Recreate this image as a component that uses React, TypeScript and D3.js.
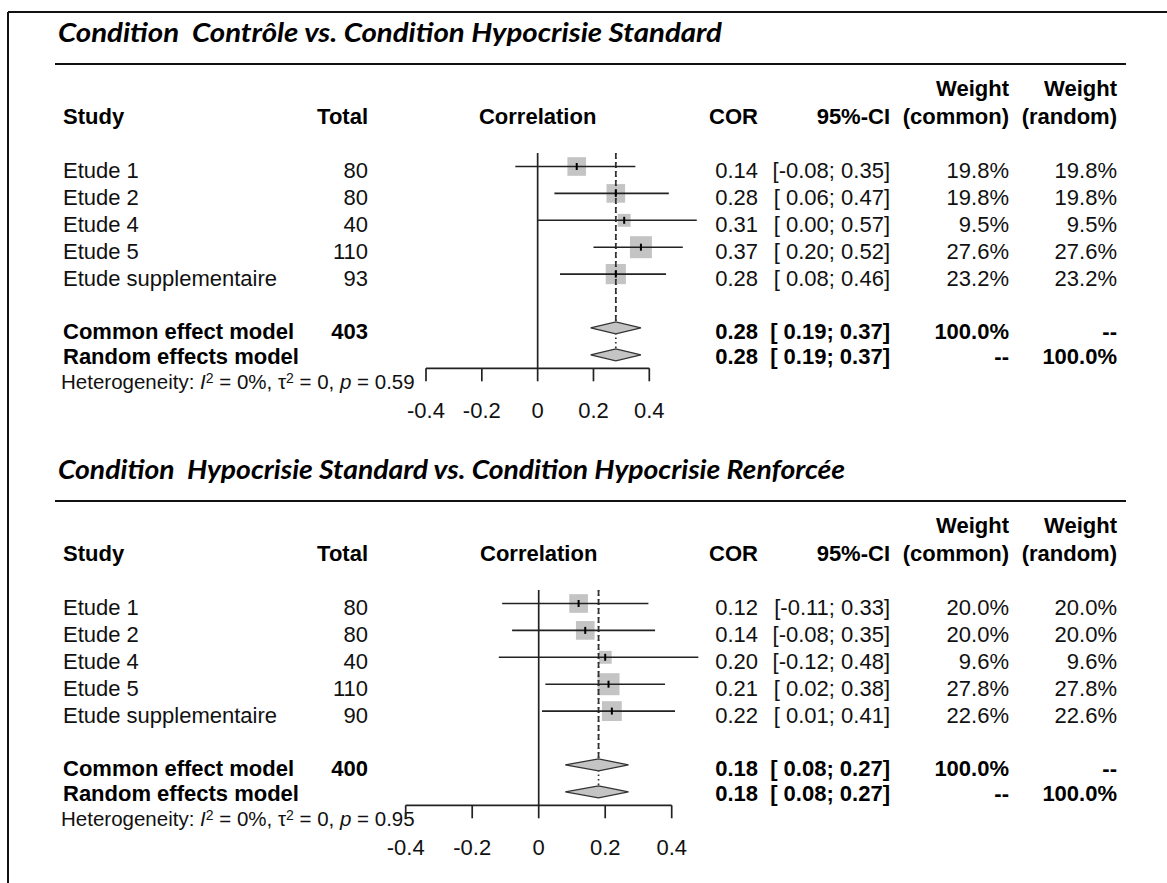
import React from "react";
import * as d3 from "d3";

// ---------- data ----------
const studyLabels = ["Etude 1", "Etude 2", "Etude 4", "Etude 5", "Etude supplementaire"];
const axisTicks = [-0.4, -0.2, 0, 0.2, 0.4];

const titleA = "Condition  Contrôle vs. Condition Hypocrisie Standard";
const totalA = [80, 80, 40, 110, 93];
const corA = [0.14, 0.28, 0.31, 0.37, 0.28];
const lowerA = [-0.08, 0.06, 0.0, 0.2, 0.08];
const upperA = [0.35, 0.47, 0.57, 0.52, 0.46];
const weightCommonA = [19.8, 19.8, 9.5, 27.6, 23.2];
const weightRandomA = [19.8, 19.8, 9.5, 27.6, 23.2];
const commonA = [0.28, 0.19, 0.37];
const randomA = [0.28, 0.19, 0.37];
const pooledTotalA = 403;
const hetA = ["0%", "0", "0.59"];

const titleB = "Condition  Hypocrisie Standard vs. Condition Hypocrisie Renforcée";
const totalB = [80, 80, 40, 110, 90];
const corB = [0.12, 0.14, 0.2, 0.21, 0.22];
const lowerB = [-0.11, -0.08, -0.12, 0.02, 0.01];
const upperB = [0.33, 0.35, 0.48, 0.38, 0.41];
const weightCommonB = [20.0, 20.0, 9.6, 27.8, 22.6];
const weightRandomB = [20.0, 20.0, 9.6, 27.8, 22.6];
const commonB = [0.18, 0.08, 0.27];
const randomB = [0.18, 0.08, 0.27];
const pooledTotalB = 400;
const hetB = ["0%", "0", "0.95"];

// ---------- helpers ----------
const hy = (s: string) => s.replace(/\u2212/g, "-");
const f2 = (v: number) => hy(d3.format(".2f")(v));
const f1 = (v: number) => hy(d3.format(".1f")(v));
const ci = (lo: number, hi: number) => `[${lo < 0 ? "" : " "}${f2(lo)}; ${f2(hi)}]`;
const pct = (w: number) => `${f1(w)}%`;

const FONT = "'Liberation Sans', Arial, sans-serif";
const FS = 22;
const INK = "#111";

type PanelProps = {
  offset: number;
  title: string;
  titleWidth: number;
  total: number[];
  cor: number[];
  lower: number[];
  upper: number[];
  wCommon: number[];
  wRandom: number[];
  common: number[];
  random: number[];
  pooledTotal: number;
  het: string[];
  range: [number, number];
};

function Panel(p: PanelProps) {
  const x = d3.scaleLinear().domain([-0.4, 0.4]).range(p.range);
  const pitch = 26.9;
  const markY = (k: number) => p.offset + 166.5 + pitch * k;
  const baseY = (k: number) => markY(k) + 11.5;
  const headerBase = baseY(-2);
  const weightBase = headerBase - 28.5;
  const axisY = markY(7) + 13.5;
  const topY = markY(0) - 13.5;
  const commonY = markY(6);
  const randomY = markY(7);
  const maxW = d3.max(p.wCommon) as number;
  const boxSize = d3.scaleSqrt().domain([0, maxW]).range([0, 22]);
  const dh = 6;

  const diamond = (est: number[], cy: number) =>
    d3.line()([
      [x(est[1]), cy],
      [x(est[0]), cy - dh],
      [x(est[2]), cy],
      [x(est[0]), cy + dh],
    ]) + "Z";

  const colLabel = 63;
  const colTotal = 368;
  const colCor = 758;
  const colCI = 890;
  const colWc = 1009;
  const colWr = 1117;
  const randBase = baseY(7) - 2.5;

  return (
    <g>
      {/* title */}
      <text
        x={58}
        y={p.offset + 42}
        fontFamily="Lato, 'Open Sans', sans-serif"
        fontStyle="italic"
        fontWeight={700}
        fontSize={26}
        fill="#000"
        textLength={p.titleWidth}
        lengthAdjust="spacingAndGlyphs"
        style={{ whiteSpace: "pre" }}
      >
        {p.title}
      </text>
      <line x1={55} x2={1126} y1={p.offset + 64} y2={p.offset + 64} stroke="#111" strokeWidth={2.2} />

      {/* headers */}
      <g fontFamily={FONT} fontSize={FS} fontWeight={700} fill="#000">
        <text x={colWc} y={weightBase} textAnchor="end">Weight</text>
        <text x={colWr} y={weightBase} textAnchor="end">Weight</text>
        <text x={colLabel} y={headerBase}>Study</text>
        <text x={colTotal} y={headerBase} textAnchor="end">Total</text>
        <text x={x(0)} y={headerBase} textAnchor="middle">Correlation</text>
        <text x={colCor} y={headerBase} textAnchor="end">COR</text>
        <text x={colCI} y={headerBase} textAnchor="end">95%-CI</text>
        <text x={colWc} y={headerBase} textAnchor="end">(common)</text>
        <text x={colWr} y={headerBase} textAnchor="end">(random)</text>
      </g>

      {/* study rows text */}
      <g fontFamily={FONT} fontSize={FS} fill={INK} style={{ whiteSpace: "pre" }}>
        {studyLabels.map((s, i) => (
          <g key={s}>
            <text x={colLabel} y={baseY(i)}>{s}</text>
            <text x={colTotal} y={baseY(i)} textAnchor="end">{p.total[i]}</text>
            <text x={colCor} y={baseY(i)} textAnchor="end">{f2(p.cor[i])}</text>
            <text x={colCI} y={baseY(i)} textAnchor="end">{ci(p.lower[i], p.upper[i])}</text>
            <text x={colWc} y={baseY(i)} textAnchor="end">{pct(p.wCommon[i])}</text>
            <text x={colWr} y={baseY(i)} textAnchor="end">{pct(p.wRandom[i])}</text>
          </g>
        ))}
      </g>

      {/* pooled rows text */}
      <g fontFamily={FONT} fontSize={FS} fontWeight={700} fill="#000" style={{ whiteSpace: "pre" }}>
        <text x={colLabel} y={baseY(6) - 0.5}>Common effect model</text>
        <text x={colTotal} y={baseY(6) - 0.5} textAnchor="end">{p.pooledTotal}</text>
        <text x={colCor} y={baseY(6) - 0.5} textAnchor="end">{f2(p.common[0])}</text>
        <text x={colCI} y={baseY(6) - 0.5} textAnchor="end">{ci(p.common[1], p.common[2])}</text>
        <text x={colWc} y={baseY(6) - 0.5} textAnchor="end">100.0%</text>
        <text x={colWr} y={baseY(6) - 0.5} textAnchor="end">--</text>
        <text x={colLabel} y={randBase}>Random effects model</text>
        <text x={colCor} y={randBase} textAnchor="end">{f2(p.random[0])}</text>
        <text x={colCI} y={randBase} textAnchor="end">{ci(p.random[1], p.random[2])}</text>
        <text x={colWc} y={randBase} textAnchor="end">--</text>
        <text x={colWr} y={randBase} textAnchor="end">100.0%</text>
      </g>

      {/* heterogeneity */}
      <text x={61} y={p.offset + 389} fontFamily={FONT} fontSize={20.5} fill={INK} style={{ whiteSpace: "pre" }}>
        <tspan>Heterogeneity: </tspan>
        <tspan fontStyle="italic">I</tspan>
        <tspan dy={-6.5} fontSize={14}>2</tspan>
        <tspan dy={6.5}>{` = ${p.het[0]}, \u03C4`}</tspan>
        <tspan dy={-6.5} fontSize={14}>2</tspan>
        <tspan dy={6.5}>{` = ${p.het[1]}, `}</tspan>
        <tspan fontStyle="italic">p</tspan>
        <tspan>{` = ${p.het[2]}`}</tspan>
      </text>

      {/* boxes */}
      {p.cor.map((c, i) => {
        const s = boxSize(p.wCommon[i]);
        return (
          <rect key={"b" + i} x={x(c) - s / 2} y={markY(i) - s / 2} width={s} height={s} fill="#c4c4c4" />
        );
      })}

      {/* zero line */}
      <line x1={x(0)} x2={x(0)} y1={topY} y2={axisY} stroke="#222" strokeWidth={1.7} />

      {/* pooled lines */}
      <line x1={x(p.common[0])} x2={x(p.common[0])} y1={topY} y2={commonY - dh} stroke="#333" strokeWidth={1.7} strokeDasharray="6 3" />
      <line x1={x(p.random[0])} x2={x(p.random[0])} y1={topY} y2={randomY - dh} stroke="#333" strokeWidth={1.7} strokeDasharray="1.5 3" />

      {/* CI lines */}
      {p.cor.map((c, i) => (
        <g key={"c" + i}>
          <line x1={x(p.lower[i])} x2={x(p.upper[i])} y1={markY(i)} y2={markY(i)} stroke="#222" strokeWidth={1.6} />
          <line x1={x(c)} x2={x(c)} y1={markY(i) - 3.5} y2={markY(i) + 3.5} stroke="#000" strokeWidth={2} />
        </g>
      ))}

      {/* diamonds */}
      <path d={diamond(p.common, commonY)} fill="#c4c4c4" stroke="#333" strokeWidth={1.3} />
      <path d={diamond(p.random, randomY)} fill="#c4c4c4" stroke="#333" strokeWidth={1.3} />

      {/* axis */}
      <line x1={x(-0.4)} x2={x(0.4)} y1={axisY} y2={axisY} stroke="#222" strokeWidth={1.7} />
      {axisTicks.map((t) => (
        <g key={"t" + t}>
          <line x1={x(t)} x2={x(t)} y1={axisY} y2={axisY + 13} stroke="#222" strokeWidth={1.7} />
          <text x={x(t)} y={axisY + 50} textAnchor="middle" fontFamily={FONT} fontSize={FS} fill={INK}>
            {t === 0 ? "0" : f1(t)}
          </text>
        </g>
      ))}
    </g>
  );
}

export default function App() {
  return (
    <svg
      width={1167}
      height={883}
      viewBox="0 0 1167 883"
      style={{ position: "absolute", left: 0, top: 0, background: "#fff" }}
    >
      <rect x={0} y={0} width={1167} height={883} fill="#fff" />
      <line x1={8} x2={1167} y1={12} y2={12} stroke="#111" strokeWidth={2} />
      <line x1={8} x2={8} y1={12} y2={883} stroke="#111" strokeWidth={2} />
      <Panel
        offset={0}
        title={titleA}
        titleWidth={664}
        total={totalA}
        cor={corA}
        lower={lowerA}
        upper={upperA}
        wCommon={weightCommonA}
        wRandom={weightRandomA}
        common={commonA}
        random={randomA}
        pooledTotal={pooledTotalA}
        het={hetA}
        range={[426, 649.3]}
      />
      <Panel
        offset={437}
        title={titleB}
        titleWidth={787}
        total={totalB}
        cor={corB}
        lower={lowerB}
        upper={upperB}
        wCommon={weightCommonB}
        wRandom={weightRandomB}
        common={commonB}
        random={randomB}
        pooledTotal={pooledTotalB}
        het={hetB}
        range={[405.7, 671.7]}
      />
    </svg>
  );
}
